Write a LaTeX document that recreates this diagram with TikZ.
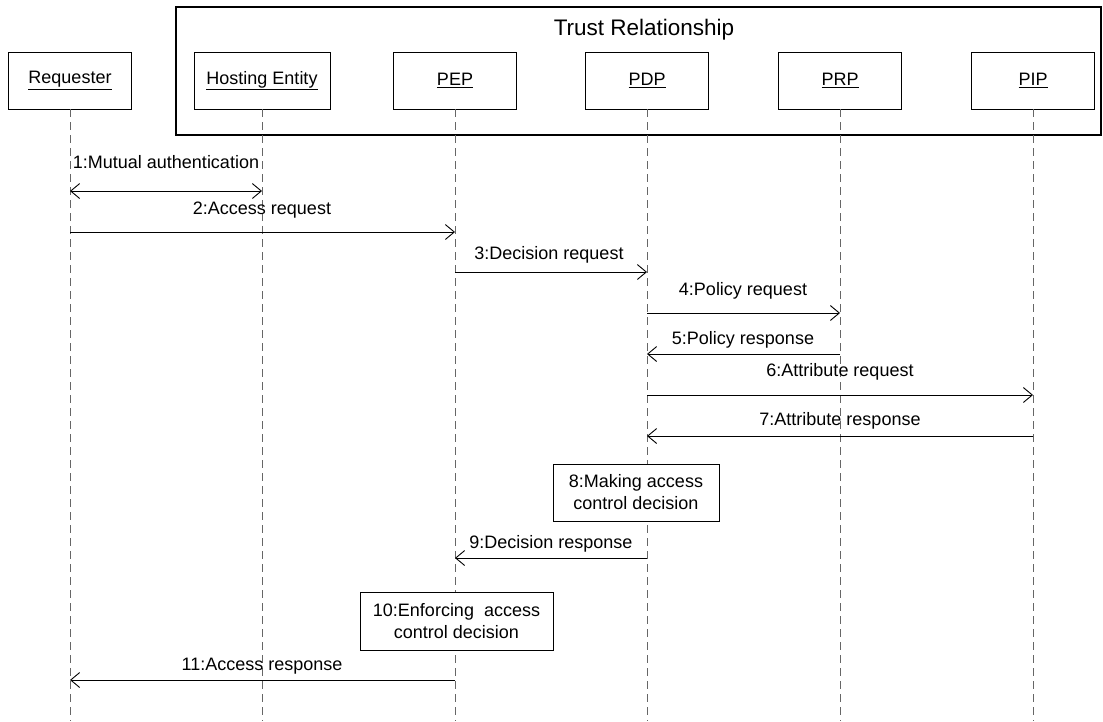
\documentclass[tikz,border=0pt]{standalone}
\usepackage{fontspec}
\setmainfont{Liberation Sans}
\usetikzlibrary{arrows.meta}
\tikzset{
  obj/.style={draw, line width=0.8pt, minimum height=57pt, inner sep=0pt, font=\fontsize{18}{20}\selectfont},
  life/.style={draw=black!60, line width=1pt, dash pattern=on 8pt off 5pt},
  msg/.style={line width=0.8pt, -{Straight Barb[length=9pt,width=15pt,line width=0.9pt]}},
  lbl/.style={font=\fontsize{18}{20}\selectfont, inner sep=0pt, text height=13pt, text depth=4pt},
  act/.style={draw, line width=0.8pt, fill=white, align=center, inner sep=0pt, font=\fontsize{18}{22}\selectfont}
}
\begin{document}
\begin{tikzpicture}[x=1pt,y=-1pt]
\useasboundingbox (0,0) rectangle (1103,721);
% trust box
\draw[line width=1.8pt] (176,7) rectangle (1101,135);
\node[font=\fontsize{22.5}{26}\selectfont, inner sep=0pt] (trust) at (644,30) {Trust Relationship};
% objects
\node[obj, minimum width=123pt] (req) at (70,80.5) {\underline{Requester}};
\node[obj, minimum width=136pt] (host) at (262,80.5) {\underline{Hosting Entity}};
\node[obj, minimum width=123pt] (pep) at (455,80.5) {\underline{PEP}};
\node[obj, minimum width=123pt] (pdp) at (647,80.5) {\underline{PDP}};
\node[obj, minimum width=123pt] (prp) at (840,80.5) {\underline{PRP}};
\node[obj, minimum width=123pt] (pip) at (1033,80.5) {\underline{PIP}};
% lifeline ends
\coordinate (reqE) at (70,721);
\coordinate (hostE) at (262,721);
\coordinate (pepE) at (455,721);
\coordinate (pdpE) at (647,721);
\coordinate (prpE) at (840,721);
\coordinate (pipE) at (1033,721);
\foreach \n in {req,host,pep,pdp,prp,pip} {\draw[life] (\n.south) -- (\n E);}
% message coordinates
\coordinate (m1a) at (70,191); \coordinate (m1b) at (262,191);
\coordinate (m2a) at (70,232); \coordinate (m2b) at (455,232);
\coordinate (m3a) at (455,272); \coordinate (m3b) at (647,272);
\coordinate (m4a) at (647,313); \coordinate (m4b) at (840,313);
\coordinate (m5a) at (840,354); \coordinate (m5b) at (647,354);
\coordinate (m6a) at (647,395); \coordinate (m6b) at (1033,395);
\coordinate (m7a) at (1033,436); \coordinate (m7b) at (647,436);
\coordinate (m9a) at (647,558); \coordinate (m9b) at (455,558);
\coordinate (m11a) at (455,680); \coordinate (m11b) at (70,680);
\draw[line width=0.8pt, {Straight Barb[length=9pt,width=15pt,line width=0.9pt]}-{Straight Barb[length=9pt,width=15pt,line width=0.9pt]}] (m1a) -- (m1b);
\draw[msg] (m2a) -- (m2b);
\draw[msg] (m3a) -- (m3b);
\draw[msg] (m4a) -- (m4b);
\draw[msg] (m5a) -- (m5b);
\draw[msg] (m6a) -- (m6b);
\draw[msg] (m7a) -- (m7b);
\draw[msg] (m9a) -- (m9b);
\draw[msg] (m11a) -- (m11b);
% labels
\node[lbl] (l1) at (166,164) {1:Mutual authentication};
\node[lbl] (l2) at (262,210) {2:Access request};
\node[lbl] (l3) at (549,255) {3:Decision request};
\node[lbl] (l4) at (743,291) {4:Policy request};
\node[lbl] (l5) at (743,340) {5:Policy response};
\node[lbl] (l6) at (840,372) {6:Attribute request};
\node[lbl] (l7) at (840,421) {7:Attribute response};
\node[lbl] (l9) at (551,544) {9:Decision response};
\node[lbl] (l11) at (262,666) {11:Access response};
% activity boxes
\node[act, minimum width=166pt, minimum height=57pt] (a8) at (636,492.5) {8:Making access\\control decision};
\node[act, minimum width=193pt, minimum height=58pt] (a10) at (456.5,621) {10:Enforcing\ \ access\\control decision};
\end{tikzpicture}
\end{document}
